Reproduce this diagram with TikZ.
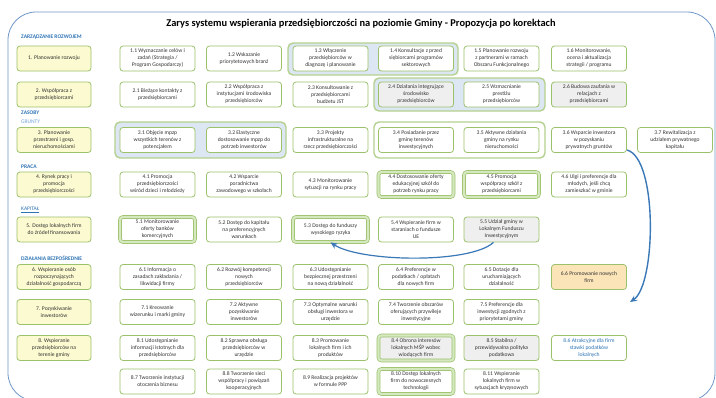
\documentclass[tikz,border=0pt]{standalone}
\usepackage{fontspec}
\setmainfont{Carlito}
\usetikzlibrary{arrows.meta}
\definecolor{grn}{HTML}{9BC16A}
\definecolor{grnlt}{HTML}{D5E8C0}
\definecolor{yel}{HTML}{FBFAD0}
\definecolor{grpblue}{HTML}{DCE7F3}
\definecolor{gry}{HTML}{EFEFEF}
\definecolor{peach}{HTML}{FBE4B8}
\definecolor{hdblue}{HTML}{2E74B5}
\definecolor{hdlight}{HTML}{6FA0D8}
\definecolor{arrblue}{HTML}{3A78B8}
\definecolor{frameblue}{HTML}{7097C8}

\begin{document}
\begin{tikzpicture}[x=1pt, y=-1pt,
	box/.style={draw=grn, line width=0.8pt, rounded corners=3pt, fill=white, minimum width=75pt, minimum height=25pt, inner sep=0pt, align=center, text=black!80, font=\fontsize{5.6}{7}\selectfont},
	lead/.style={box, fill=yel, minimum width=74pt},
	dbl/.style={double=grnlt, double distance=2.2pt, line width=0.7pt},
	grp/.style={draw=grn!75, line width=1.4pt, rounded corners=5pt, fill=grpblue},
	hd/.style={anchor=west, inner sep=1pt, text=hdblue, font=\fontsize{5.5}{6}\selectfont\bfseries},
	arr/.style={draw=arrblue, line width=1.4pt, -{Stealth[length=7pt, width=6pt]}}]
	\fill[white] (0,0) rectangle (716,397);
	\useasboundingbox (0,0) rectangle (716,397);
	\draw[frameblue, line width=0.8pt, rounded corners=28pt] (8,12) rectangle (715,401);

	\node[font=\fontsize{10.4}{12}\selectfont\bfseries] (T) at (361,24) {Zarys systemu wspierania przedsiębiorczości na poziomie Gminy - Propozycja po korektach};

	% naglowki grup
	\node[hd] (H1) at (20,37) {ZARZĄDZANIE ROZWOJEM};
	\node[hd] (H2) at (20,113) {ZASOBY};
	\node[hd, text=hdlight, font=\fontsize{5.5}{6}\selectfont] (H3) at (20,122) {GRUNTY};
	\node[hd] (H4) at (20,167) {PRACA};
	\node[hd, font=\fontsize{5.5}{6}\selectfont] (H5) at (20,210) {\underline{KAPITAŁ}};
	\node[hd] (H6) at (20,258) {DZIAŁANIA BEZPOŚREDNIE};

	% tla grup
	\draw[grp] (288,43) rectangle (458,75);
	\draw[grp] (374,78) rectangle (545,111);
	\draw[grp] (115,122) rectangle (286,158);
	\draw[grp, fill=white] (374,122) rectangle (545,158);

	% obszary
	\node[lead] (P1) at (54,58.5) {1. Planowanie rozwoju};
	\node[lead] (P2) at (54,94.5) {2. Współpraca z\\przedsiębiorcami};
	\node[lead] (P3) at (54,140) {3. Planowanie\\przestrzeni i gosp.\\nieruchomościami};
	\node[lead] (P4) at (54,184.5) {4. Rynek pracy i\\promocja\\przedsiębiorczości};
	\node[lead] (P5) at (54,229.5) {5. Dostęp lokalnych firm\\do źródeł finansowania};
	\node[lead] (P6) at (54,277) {6. Wspieranie osób\\rozpoczynających\\działalność gospodarczą};
	\node[lead] (P7) at (54,312) {7. Pozyskiwanie\\inwestorów};
	\node[lead] (P8) at (54,348) {8. Wspieranie\\przedsiębiorców na\\terenie gminy};

	% 1. zarzadzanie rozwojem
	\node[box] (D11) at (157.5,58.5) {1.1 Wyznaczanie celów i\\zadań (Strategia /\\Program Gospodarczy)};
	\node[box] (D12) at (244,58.5) {1.2 Wskazanie\\priorytetowych branż};
	\node[box] (D13) at (330.5,58.5) {1.3 Włączenie\\przedsiębiorców w\\diagnozę i planowanie};
	\node[box] (D14) at (416,58.5) {1.4 Konsultacje z przed\\siębiorcami programów\\sektorowych};
	\node[box] (D15) at (501.5,58.5) {1.5 Planowanie rozwoju\\z partnerami w ramach\\Obszaru Funkcjonalnego};
	\node[box] (D16) at (589,58.5) {1.6 Monitorowanie,\\ocena i aktualizacja\\strategii / programu};

	% 2. wspolpraca
	\node[box] (D21) at (157.5,94.5) {2.1 Bieżące kontakty z\\przedsiębiorcami};
	\node[box] (D22) at (244,94.5) {2.2 Współpraca z\\instytucjami środowiska\\przedsiębiorców};
	\node[box] (D23) at (330.5,94.5) {2.3 Konsultowanie z\\przedsiębiorcami\\budżetu JST};
	\node[box, fill=gry] (D24) at (416,94.5) {2.4 Działania integrujące\\środowisko\\przedsiębiorców};
	\node[box] (D25) at (501.5,94.5) {2.5 Wzmacnianie\\prestiżu\\przedsiębiorców};
	\node[box, fill=gry] (D26) at (589,94.5) {2.6 Budowa zaufania w\\relacjach z\\przedsiębiorcami};

	% 3. grunty
	\node[box] (D31) at (157.5,140) {3.1 Objęcie mpzp\\wszystkich terenów z\\potencjałem};
	\node[box] (D32) at (244,140) {3.2 Elastyczne\\dostosowanie mpzp do\\potrzeb inwestorów};
	\node[box] (D33) at (330.5,140) {3.3 Projekty\\infrastrukturalne na\\rzecz przedsiębiorczości};
	\node[box] (D34) at (416,140) {3.4 Posiadanie przez\\gminę terenów\\inwestycyjnych};
	\node[box] (D35) at (501.5,140) {3.5 Aktywne działania\\gminy na rynku\\nieruchomości};
	\node[box] (D36) at (589,140) {3.6 Wsparcie inwestora\\w pozyskaniu\\prywatnych gruntów};
	\node[box] (D37) at (675,140) {3.7 Rewitalizacja z\\udziałem prywatnego\\kapitału};

	% 4. praca
	\node[box] (D41) at (157.5,184.5) {4.1 Promocja\\przedsiębiorczości\\wśród dzieci i młodzieży};
	\node[box] (D42) at (244,184.5) {4.2 Wsparcie\\poradnictwa\\zawodowego w szkołach};
	\node[box] (D43) at (330.5,184.5) {4.3 Monitorowanie\\sytuacji na rynku pracy};
	\node[box, dbl] (D44) at (416,184.5) {4.4 Dostosowanie oferty\\edukacyjnej szkół do\\potrzeb rynku pracy};
	\node[box, dbl] (D45) at (501.5,184.5) {4.5 Promocja\\współpracy szkół z\\przedsiębiorcami};
	\node[box] (D46) at (589,184.5) {4.6 Ulgi i preferencje dla\\młodych, jeśli chcą\\zamieszkać w gminie};

	% 5. kapital
	\node[box, dbl] (D51) at (157.5,229.5) {5.1 Monitorowanie\\oferty banków\\komercyjnych};
	\node[box] (D52) at (244,229.5) {5.2 Dostęp do kapitału\\na preferencyjnych\\warunkach};
	\node[box, dbl] (D53) at (330.5,229.5) {5.3 Dostęp do funduszy\\wysokiego ryzyka};
	\node[box] (D54) at (416,229.5) {5.4 Wspieranie firm w\\staraniach o fundusze\\UE};
	\node[box, fill=gry] (D55) at (501.5,229.5) {5.5 Udział gminy w\\Lokalnym Funduszu\\Inwestycyjnym};

	% 6. nowe firmy
	\node[box] (D61) at (157.5,277) {6.1 Informacja o\\zasadach zakładania /\\likwidacji firmy};
	\node[box] (D62) at (244,277) {6.2 Rozwój kompetencji\\nowych\\przedsiębiorców};
	\node[box] (D63) at (330.5,277) {6.3 Udostępnianie\\bezpiecznej przestrzeni\\na nową działalność};
	\node[box] (D64) at (416,277) {6.4 Preferencje w\\podatkach / opłatach\\dla nowych firm};
	\node[box] (D65) at (501.5,277) {6.5 Dotacje dla\\uruchamiających\\działalność};
	\node[box, fill=peach] (D66) at (589,277) {6.6 Promowanie nowych\\firm};

	% 7. inwestorzy
	\node[box] (D71) at (157.5,312) {7.1 Kreowanie\\wizerunku i marki gminy};
	\node[box] (D72) at (244,312) {7.2 Aktywne\\pozyskiwanie\\inwestorów};
	\node[box] (D73) at (330.5,312) {7.3 Optymalne warunki\\obsługi inwestora w\\urzędzie};
	\node[box] (D74) at (416,312) {7.4 Tworzenie obszarów\\oferujących przywileje\\inwestycyjne};
	\node[box] (D75) at (501.5,312) {7.5 Preferencje dla\\inwestycji zgodnych z\\priorytetami gminy};

	% 8. wspieranie firm
	\node[box] (D81) at (157.5,348) {8.1 Udostępnianie\\informacji istotnych dla\\przedsiębiorców};
	\node[box] (D82) at (244,348) {8.2 Sprawna obsługa\\przedsiębiorców w\\urzędzie};
	\node[box] (D83) at (330.5,348) {8.3 Promowanie\\lokalnych firm i ich\\produktów};
	\node[box, dbl, fill=gry] (D84) at (416,348) {8.4 Obrona interesów\\lokalnych MŚP wobec\\wiodących firm};
	\node[box, fill=gry] (D85) at (501.5,348) {8.5 Stabilna /\\przewidywalna polityka\\podatkowa};
	\node[box, text=hdblue] (D86) at (589,348) {8.6 Atrakcyjne dla firm\\stawki podatków\\lokalnych};
	\node[box] (D87) at (157.5,381.5) {8.7 Tworzenie instytucji\\otoczenia biznesu};
	\node[box] (D88) at (244,381.5) {8.8 Tworzenie sieci\\współpracy i powiązań\\kooperacyjnych};
	\node[box] (D89) at (330.5,381.5) {8.9 Realizacja projektów\\w formule PPP};
	\node[box, dbl] (D810) at (416,381.5) {8.10 Dostęp lokalnych\\firm do nowoczesnych\\technologii};
	\node[box] (D811) at (501.5,381.5) {8.11 Wspieranie\\lokalnych firm w\\sytuacjach kryzysowych};

	% strzalki
	\coordinate (Tip) at (630,302);
	\draw[arr] ([yshift=-10]D36.east) .. controls (658,158) and (656,285) .. (Tip);
	\draw[arr, line width=1.2pt] ([xshift=-8]D55.south) .. controls (470,264) and (360,262) .. (D53.south);
\end{tikzpicture}
\end{document}
